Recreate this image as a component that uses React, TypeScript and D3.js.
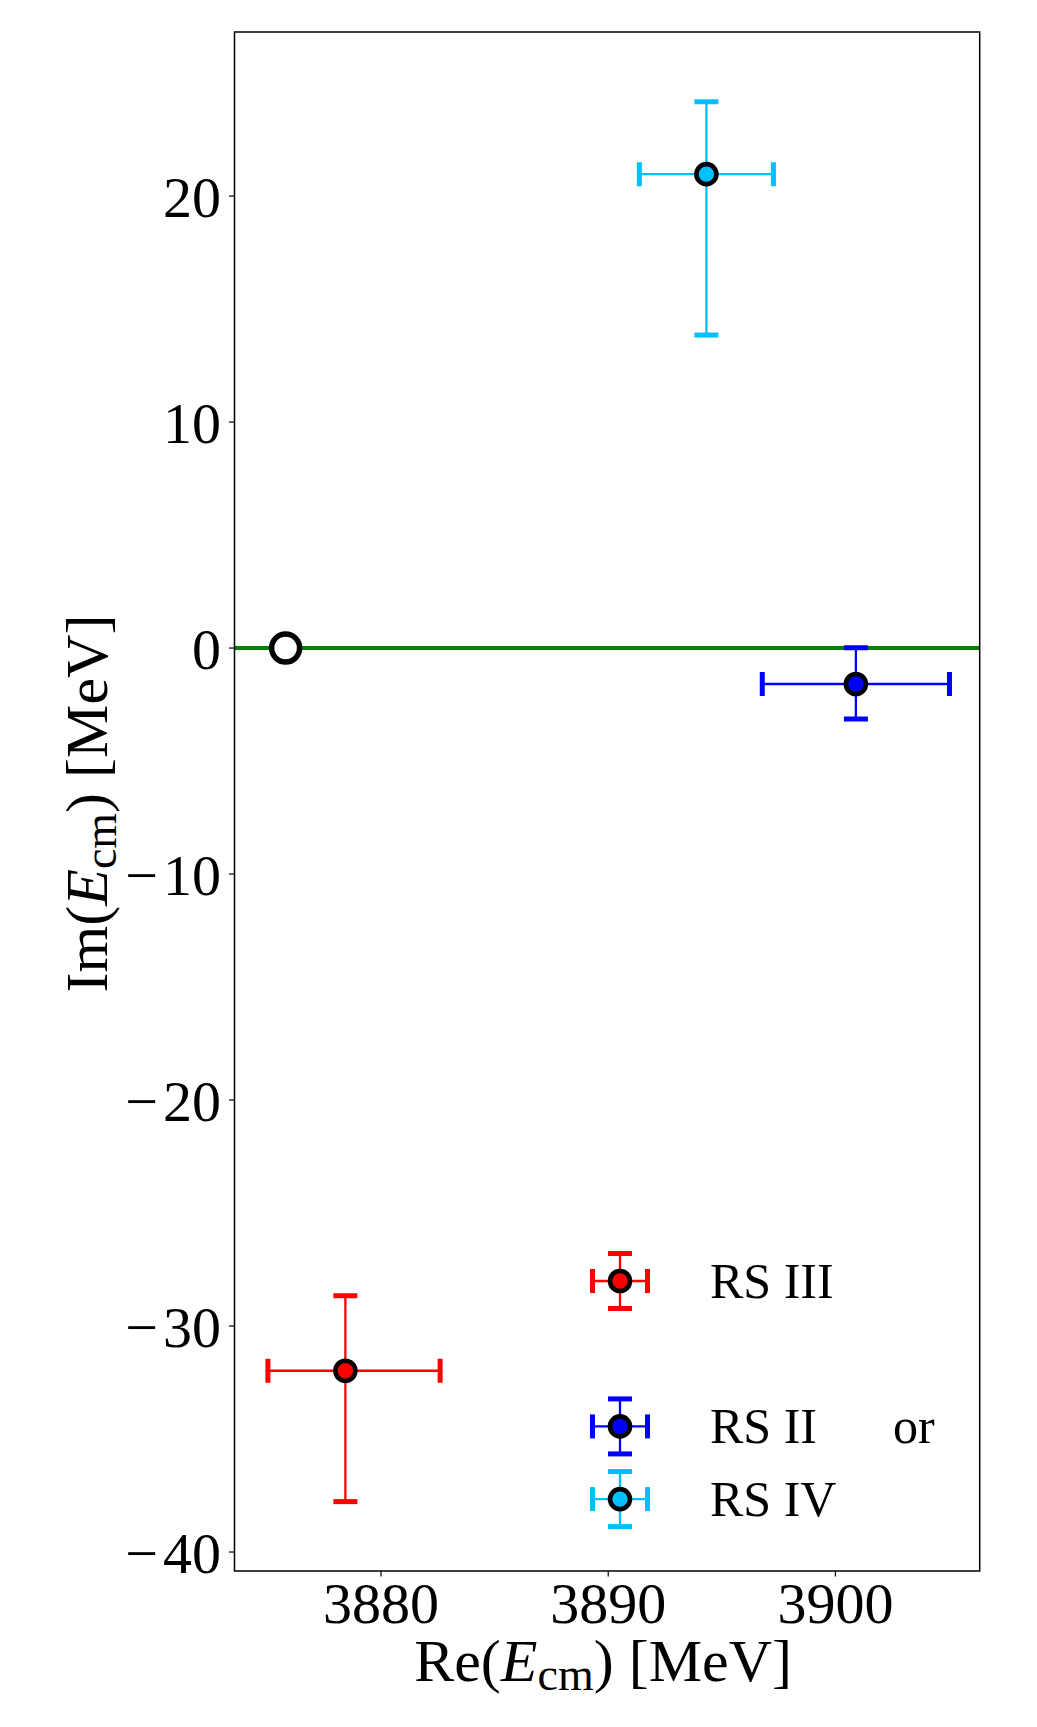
import React from "react";
import * as d3 from "d3";

// ---- data ----
type Pole = {
  name: string;
  color: string;
  re: number;
  reLo: number;
  reHi: number;
  im: number;
  imLo: number;
  imHi: number;
  legendRow: number;
};

const poles: Pole[] = [
  { name: "RS III", color: "#ff0000", re: 3878.43, reLo: 3.41, reHi: 4.17, im: -31.98, imLo: 5.79, imHi: 3.32, legendRow: 0 },
  { name: "RS II", color: "#0000ff", re: 3900.9, reLo: 4.12, reHi: 4.12, im: -1.59, imLo: 1.55, imHi: 1.6, legendRow: 2 },
  { name: "RS IV", color: "#00bfff", re: 3894.32, reLo: 2.95, reHi: 2.95, im: 20.97, imLo: 7.12, imHi: 3.2, legendRow: 3 },
];

const threshold = { re: 3875.8, im: 0 };

const xTicks = [3880, 3890, 3900];
const yTicks = [-40, -30, -20, -10, 0, 10, 20];
const xDomain = [3873.55, 3906.35];
const yDomain = [-40.84, 27.26];

// ---- layout ----
const W = 1037;
const H = 1727;
const plot = { left: 234.5, right: 979.7, top: 32, bottom: 1571 };
const FONT = "'Liberation Serif', 'Times New Roman', serif";

function TickText({ v }: { v: number }) {
  if (v < 0) {
    return (
      <>
        <tspan letterSpacing={5}>{"\u2212"}</tspan>
        <tspan>{Math.abs(v)}</tspan>
      </>
    );
  }
  return <tspan>{v}</tspan>;
}

function ErrorBar({ cx, cy, x0, x1, y0, y1, color }: { cx: number; cy: number; x0: number; x1: number; y0: number; y1: number; color: string }) {
  const cap = 12;
  return (
    <g>
      <line x1={x0} x2={x1} y1={cy} y2={cy} stroke={color} strokeWidth={2.3} />
      <line x1={cx} x2={cx} y1={y0} y2={y1} stroke={color} strokeWidth={2.3} />
      <line x1={x0} x2={x0} y1={cy - cap} y2={cy + cap} stroke={color} strokeWidth={5} />
      <line x1={x1} x2={x1} y1={cy - cap} y2={cy + cap} stroke={color} strokeWidth={5} />
      <line x1={cx - cap} x2={cx + cap} y1={y0} y2={y0} stroke={color} strokeWidth={5} />
      <line x1={cx - cap} x2={cx + cap} y1={y1} y2={y1} stroke={color} strokeWidth={5} />
      <circle cx={cx} cy={cy} r={10} fill={color} stroke="#000" strokeWidth={4.6} />
    </g>
  );
}

export default function App() {
  const x = d3.scaleLinear().domain(xDomain).range([plot.left, plot.right]);
  const y = d3.scaleLinear().domain(yDomain).range([plot.bottom, plot.top]);

  const legendX = 620;
  const legendY0 = 1281;
  const rowH = 72.7;
  const legHalf = 27.5;

  return (
    <svg width={W} height={H} style={{ position: "absolute", left: 0, top: 0, background: "#fff" }} fontFamily={FONT}>
      <rect x={0} y={0} width={W} height={H} fill="#fff" />
      <defs>
        <clipPath id="plotclip">
          <rect x={plot.left} y={plot.top} width={plot.right - plot.left} height={plot.bottom - plot.top} />
        </clipPath>
      </defs>

      {/* zero line */}
      <line x1={plot.left} x2={plot.right} y1={y(0)} y2={y(0)} stroke="#008000" strokeWidth={4} />

      {/* threshold */}
      <circle cx={x(threshold.re)} cy={y(threshold.im)} r={14} fill="#fff" stroke="#000" strokeWidth={5.5} />

      {/* poles */}
      <g clipPath="url(#plotclip)">
        {poles.map((p) => (
          <ErrorBar
            key={p.name}
            cx={x(p.re)}
            cy={y(p.im)}
            x0={x(p.re - p.reLo)}
            x1={x(p.re + p.reHi)}
            y0={y(p.im + p.imHi)}
            y1={y(p.im - p.imLo)}
            color={p.color}
          />
        ))}
      </g>

      {/* frame */}
      <rect x={plot.left} y={plot.top} width={plot.right - plot.left} height={plot.bottom - plot.top} fill="none" stroke="#000" strokeWidth={1.5} />

      {/* y ticks */}
      {yTicks.map((t) => (
        <g key={"y" + t}>
          <line x1={plot.left - 5.5} x2={plot.left} y1={y(t)} y2={y(t)} stroke="#000" strokeWidth={1.2} />
          <text x={221} y={y(t)} dy="0.36em" textAnchor="end" fontSize={58}>
            <TickText v={t} />
          </text>
        </g>
      ))}

      {/* x ticks */}
      {xTicks.map((t) => (
        <g key={"x" + t}>
          <line x1={x(t)} x2={x(t)} y1={plot.bottom} y2={plot.bottom + 5.5} stroke="#000" strokeWidth={1.2} />
          <text x={x(t)} y={1623} textAnchor="middle" fontSize={58}>
            {t}
          </text>
        </g>
      ))}

      {/* axis labels */}
      <text x={(plot.left + plot.right) / 2 - 4} y={1681} textAnchor="middle" fontSize={60}>
        <tspan>Re(</tspan>
        <tspan fontStyle="italic">E</tspan>
        <tspan fontSize={46} dy={9}>cm</tspan>
        <tspan dy={-9}>) [MeV]</tspan>
      </text>
      <text transform={`translate(107, ${(plot.top + plot.bottom) / 2 + 2}) rotate(-90)`} textAnchor="middle" fontSize={60}>
        <tspan>Im(</tspan>
        <tspan fontStyle="italic">E</tspan>
        <tspan fontSize={46} dy={9}>cm</tspan>
        <tspan dy={-9}>) [MeV]</tspan>
      </text>

      {/* legend */}
      {poles.map((p) => {
        const cy = legendY0 + p.legendRow * rowH;
        return (
          <g key={"leg" + p.name}>
            <ErrorBar cx={legendX} cy={cy} x0={legendX - legHalf} x1={legendX + legHalf} y0={cy - legHalf} y1={cy + legHalf} color={p.color} />
            <text x={710} y={cy + 17} fontSize={50}>
              {p.name}
            </text>
          </g>
        );
      })}
      <text x={893} y={legendY0 + 2 * rowH + 17} fontSize={50}>
        or
      </text>
    </svg>
  );
}
